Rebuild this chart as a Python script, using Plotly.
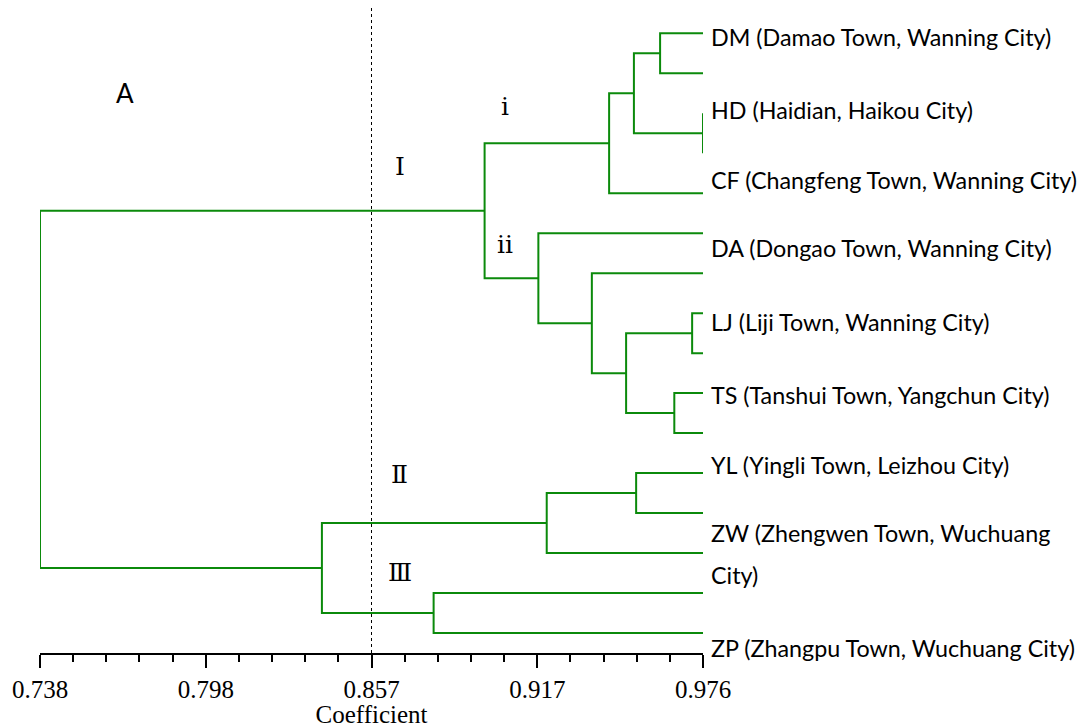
import plotly.graph_objects as go

# ---------------- data ----------------
leaf_count = 16
leaf_coef = 0.976
# merges: (child_a, child_b, coefficient); leaves are 0..15, merge k is id 16+k
merge_a = [0, 2, 16, 18, 7, 9, 20, 6, 5, 19, 11, 26, 14, 27, 25]
merge_b = [1, 3, 17, 4, 8, 10, 21, 22, 23, 24, 12, 13, 15, 28, 29]
merge_coef = [0.9606, 0.976, 0.9512, 0.9423, 0.9721, 0.9657, 0.9484, 0.9361,
              0.9169, 0.8976, 0.9520, 0.9199, 0.8793, 0.8392, 0.738]

site_labels = ["DM (Damao Town, Wanning City)", "HD (Haidian, Haikou City)",
               "CF (Changfeng Town, Wanning City)", "DA (Dongao Town, Wanning City)",
               "LJ (Liji Town, Wanning City)", "TS (Tanshui Town, Yangchun City)",
               "YL (Yingli Town, Leizhou City)", "ZW (Zhengwen Town, Wuchuang",
               "City)", "ZP (Zhangpu Town, Wuchuang City)"]
cluster_names = ["Ⅰ", "Ⅱ", "Ⅲ", "ⅰ", "ⅱ"]
panel_letter = "A"
cut_value = 0.857

tick_vals = [0.738, 0.7975, 0.857, 0.9165, 0.976]
tick_text = ["0.738", "0.798", "0.857", "0.917", "0.976"]
axis_title = "Coefficient"

# ---------------- layout helpers ----------------
label_rows = [0.09, 1.92, 3.67, 5.37, 7.21, 9.04, 10.79, 12.49, 13.54, 15.37]
cluster_pos = [(0.8672, 3.32), (0.8672, 11.04), (0.8672, 13.49), (0.9049, 1.83), (0.9049, 5.29)]

# compute node positions
node_x = {i: leaf_coef for i in range(leaf_count)}
node_y = {i: float(i) for i in range(leaf_count)}
xs, ys = [], []
for k, (a, b, c) in enumerate(zip(merge_a, merge_b, merge_coef)):
    nid = leaf_count + k
    xs += [node_x[a], c, c, node_x[b], None]
    ys += [node_y[a], node_y[a], node_y[b], node_y[b], None]
    node_x[nid] = c
    node_y[nid] = (node_y[a] + node_y[b]) / 2

fig = go.Figure()
fig.add_trace(go.Scatter(x=xs, y=ys, mode="lines",
                         line=dict(color="#0b8a0b", width=2),
                         hoverinfo="skip", showlegend=False, cliponaxis=False))

# page body has an 8px margin; compensate so the screen positions match
off = 8
W, H = 1090 - off, 728 - off
ml = 40 - off
mr = 1090 - 703
mt = 0
axis_px = 653.3 - off
mb = H - axis_px
plot_h = axis_px - mt
px_per_row = 40.0
y_top = -(33.3 - off - mt) / px_per_row
y_bot = y_top + plot_h / px_per_row

ann = []
for txt, r in zip(site_labels, label_rows):
    ann.append(dict(x=1 + 6 / (W - ml - mr), xref="paper", y=r, yref="y",
                    text=txt, showarrow=False, xanchor="left", yanchor="middle",
                    font=dict(family="Lato", size=23.3, color="black")))
for txt, (cx, cy) in zip(cluster_names, cluster_pos):
    ann.append(dict(x=cx, y=cy, xref="x", yref="y", text=txt, showarrow=False,
                    xanchor="center", yanchor="middle",
                    font=dict(family="DejaVu Serif, Liberation Serif", size=25, color="black")))
ann.append(dict(x=0.7685, y=1.5, xref="x", yref="y", text=panel_letter, showarrow=False,
                xanchor="center", yanchor="middle",
                font=dict(family="Lato", size=26, color="black")))

fig.update_layout(
    width=W, height=H,
    margin=dict(l=ml, r=mr, t=mt, b=mb),
    paper_bgcolor="white", plot_bgcolor="white",
    annotations=ann,
    shapes=[dict(type="line", xref="x", yref="paper", x0=cut_value, x1=cut_value,
                 y0=0, y1=1, line=dict(color="black", width=1, dash="dot"))],
    xaxis=dict(range=[0.738, 0.976], showgrid=False, zeroline=False,
               showline=True, linecolor="black", linewidth=1.5,
               ticks="outside", ticklen=13, tickwidth=1.5, tickcolor="black",
               tickmode="array", tickvals=tick_vals, ticktext=tick_text,
               tickfont=dict(family="Liberation Serif", size=25, color="black"),
               minor=dict(ticks="outside", ticklen=7, tickwidth=1.5, tickcolor="black",
                          tick0=0.738, dtick=0.0119),
               title=dict(text=axis_title, standoff=0,
                          font=dict(family="Liberation Serif", size=25, color="black"))),
    yaxis=dict(range=[y_bot, y_top], visible=False, showgrid=False, zeroline=False),
)

fig.write_html("out.html")
